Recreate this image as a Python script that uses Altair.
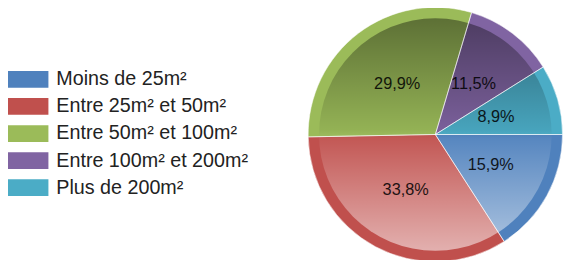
import math
import altair as alt
import pandas as pd

categories = ["Moins de 25m²", "Entre 25m² et 50m²", "Entre 50m² et 100m²",
              "Entre 100m² et 200m²", "Plus de 200m²"]
values = [15.9, 33.8, 29.9, 11.5, 8.9]
colors = ["#4F81BD", "#C0504D", "#9BBB59", "#8064A2", "#4BACC6"]

df = pd.DataFrame({
    "cat": categories,
    "value": values,
    "idx": list(range(len(categories))),
    "label": [f"{v:.1f}%".replace(".", ",") for v in values],
})

CX, CY = 433.5, 126.5
R_OUT, R_IN = 129, 118

color_scale = alt.Scale(domain=categories, range=colors)
theta_enc = alt.Theta("value:Q", stack=True,
                      scale=alt.Scale(range=[math.pi / 2, math.pi / 2 + 2 * math.pi]))

base = alt.Chart(df).encode(
    theta=theta_enc,
    order=alt.Order("idx:Q"),
    x=alt.value(CX), y=alt.value(CY),
)

pie = base.mark_arc(radius=R_OUT).encode(
    color=alt.Color("cat:N", scale=color_scale, legend=None)
)

gradient = alt.LinearGradient(
    gradient="linear", x1=0, y1=0, x2=0, y2=1,
    stops=[
        alt.GradientStop(color="rgba(0,0,0,0.40)", offset=0),
        alt.GradientStop(color="rgba(0,0,0,0.05)", offset=0.48),
        alt.GradientStop(color="rgba(255,255,255,0.05)", offset=0.52),
        alt.GradientStop(color="rgba(255,255,255,0.55)", offset=1),
    ],
)

overlay = alt.Chart(pd.DataFrame({"d": [1]})).mark_arc(
    radius=R_IN, theta=0, theta2=2 * math.pi, fill=gradient
).encode(x=alt.value(CX), y=alt.value(CY))

edges = base.mark_arc(radius=R_OUT, fillOpacity=0, stroke="#ffffff",
                      strokeWidth=1, strokeOpacity=0.5).encode(
    detail="cat:N"
)

labels = base.mark_text(radius=64, font="Arial", fontSize=16.5,
                        color="#000000", opacity=0.85).encode(
    text="label:N"
)

yleg = alt.Y("cat:N", sort=categories, axis=None,
             scale=alt.Scale(range=[62, 189], paddingInner=0.3818, paddingOuter=0))

leg_rect = alt.Chart(df).mark_rect().encode(
    y=yleg,
    x=alt.value(0), x2=alt.value(41),
    color=alt.Color("cat:N", scale=color_scale, legend=None),
)
leg_text = alt.Chart(df).mark_text(align="left", baseline="middle", font="Arial",
                                   fontSize=20, color="#222222").encode(
    y=yleg, x=alt.value(49), text="cat:N"
)

chart = alt.layer(pie, overlay, edges, labels, leg_rect, leg_text).properties(
    width=563, height=252, padding=0,
    autosize=alt.AutoSizeParams(type="none"),
).configure_view(stroke=None)

chart.save("out.html", embed_options={"renderer": "svg", "actions": False})
